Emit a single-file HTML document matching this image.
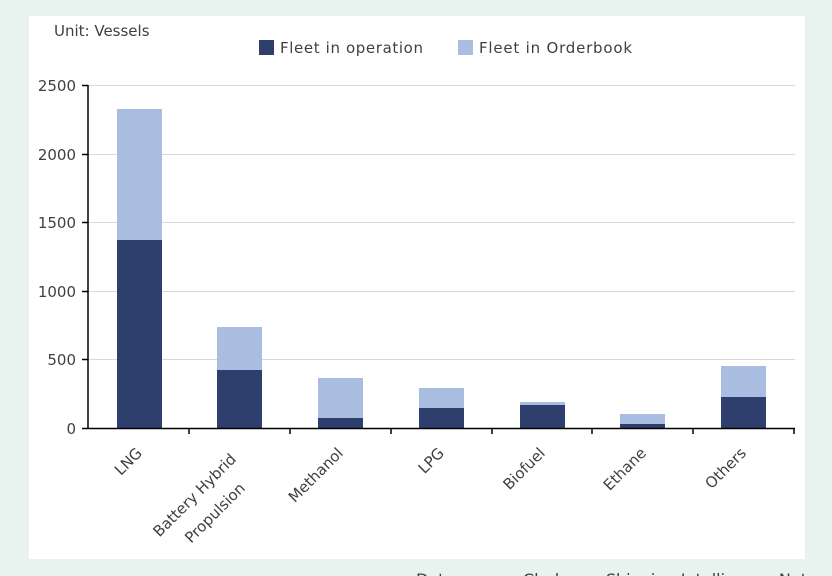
<!DOCTYPE html>
<html><head><style>
body{margin:0;background:#e8f2ee;width:832px;height:576px;overflow:hidden;font-family:"DejaVu Sans","Liberation Sans",sans-serif}
</style></head><body>
<svg width="832" height="576" xmlns="http://www.w3.org/2000/svg" style="position:absolute;left:0;top:0">
<rect x="0" y="0" width="832" height="576" fill="#e8f2ee"/>
<rect x="29" y="16" width="776" height="543" fill="#ffffff"/>
<g font-size="15" fill="#404040">
<text x="54" y="36">Unit: Vessels</text>
<rect x="259" y="40" width="15" height="15" fill="#2e3f6e"/>
<text x="280" y="53" textLength="143">Fleet in operation</text>
<rect x="458" y="40" width="15" height="15" fill="#a9bde0"/>
<text x="479" y="53" textLength="153">Fleet in Orderbook</text>
</g>
<g stroke="#d9d9d9" stroke-width="1">
<line x1="88" y1="85.5" x2="795" y2="85.5"/>
<line x1="88" y1="154.5" x2="795" y2="154.5"/>
<line x1="88" y1="222.5" x2="795" y2="222.5"/>
<line x1="88" y1="291.5" x2="795" y2="291.5"/>
<line x1="88" y1="359.5" x2="795" y2="359.5"/>
</g>
<g>
<rect x="117" y="109" width="45" height="131" fill="#a9bde0"/><rect x="117" y="240" width="45" height="188" fill="#2e3f6e"/>
<rect x="217" y="327" width="45" height="43" fill="#a9bde0"/><rect x="217" y="370" width="45" height="58" fill="#2e3f6e"/>
<rect x="318" y="378" width="45" height="40" fill="#a9bde0"/><rect x="318" y="418" width="45" height="10" fill="#2e3f6e"/>
<rect x="419" y="388" width="45" height="20" fill="#a9bde0"/><rect x="419" y="408" width="45" height="20" fill="#2e3f6e"/>
<rect x="520" y="402" width="45" height="3" fill="#a9bde0"/><rect x="520" y="405" width="45" height="23" fill="#2e3f6e"/>
<rect x="620" y="414" width="45" height="10" fill="#a9bde0"/><rect x="620" y="424" width="45" height="4" fill="#2e3f6e"/>
<rect x="721" y="366" width="45" height="31" fill="#a9bde0"/><rect x="721" y="397" width="45" height="31" fill="#2e3f6e"/>
</g>
<g stroke="#000" stroke-width="1.5">
<line x1="88" y1="85" x2="88" y2="429"/>
<line x1="88" y1="428.5" x2="795" y2="428.5"/>
<line x1="82" y1="85.5" x2="88" y2="85.5"/><line x1="82" y1="154.5" x2="88" y2="154.5"/><line x1="82" y1="222.5" x2="88" y2="222.5"/><line x1="82" y1="291.5" x2="88" y2="291.5"/><line x1="82" y1="359.5" x2="88" y2="359.5"/><line x1="82" y1="428.5" x2="88" y2="428.5"/>
<line x1="189" y1="428" x2="189" y2="434"/><line x1="290" y1="428" x2="290" y2="434"/><line x1="391" y1="428" x2="391" y2="434"/><line x1="492" y1="428" x2="492" y2="434"/><line x1="592" y1="428" x2="592" y2="434"/><line x1="693" y1="428" x2="693" y2="434"/><line x1="794" y1="428" x2="794" y2="434"/>
</g>
<g font-size="15" fill="#404040" text-anchor="end">
<text x="76" y="91">2500</text><text x="76" y="160">2000</text><text x="76" y="228">1500</text><text x="76" y="297">1000</text><text x="76" y="365">500</text><text x="76" y="434">0</text>
</g>
<g font-size="15" fill="#404040" text-anchor="end">
<text transform="translate(143,454) rotate(-45)">LNG</text>
<text transform="translate(237,460) rotate(-45)">Battery Hybrid</text>
<text transform="translate(246,489) rotate(-45)">Propulsion</text>
<text transform="translate(344,454) rotate(-45)">Methanol</text>
<text transform="translate(445,454) rotate(-45)">LPG</text>
<text transform="translate(546,454) rotate(-45)">Biofuel</text>
<text transform="translate(647,454) rotate(-45)">Ethane</text>
<text transform="translate(747,454) rotate(-45)">Others</text>
</g>
<text x="416" y="585" font-size="16" fill="#404040">Data source: Clarksons Shipping Intelligence Network</text>
</svg>
</body></html>
